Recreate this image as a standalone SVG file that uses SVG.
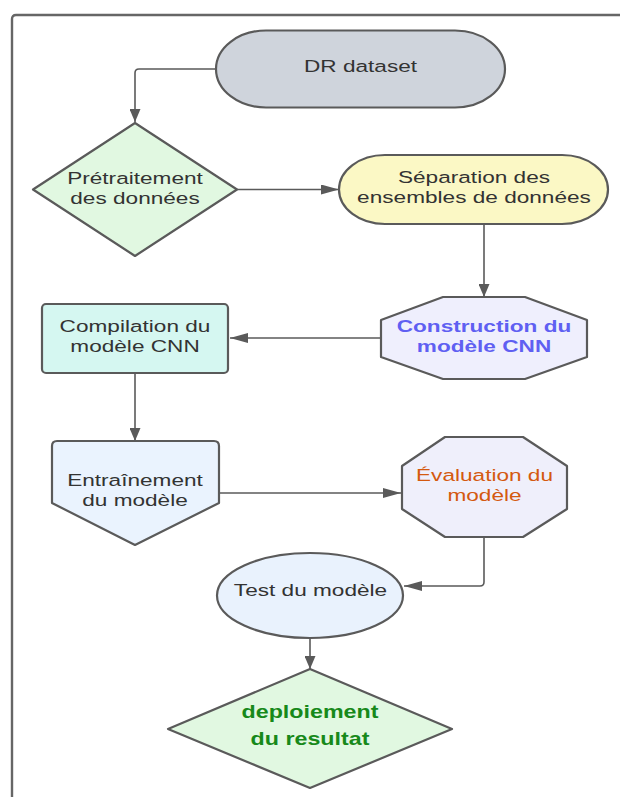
<svg xmlns="http://www.w3.org/2000/svg" width="620" height="797" viewBox="0 0 620 797">
  <style>
    .shape { stroke: #5a5a5a; stroke-width: 2.2; stroke-linejoin: round; }
    .edge { fill: none; stroke: #5a5a5a; stroke-width: 1.6; }
    .frame { fill: none; stroke: #666666; stroke-width: 2.4; }
    text { font-family: "Liberation Sans", Arial, sans-serif; font-size: 17px; fill: #333333; text-anchor: middle; }
    .blue { fill: #5f5ff2; font-weight: bold; }
    .orange { fill: #d4590f; }
    .green { fill: #17891a; font-weight: bold; font-size: 17.5px; }
  </style>
  <defs>
    <marker id="arrH" markerUnits="userSpaceOnUse" viewBox="0 0 18 10" markerWidth="18" markerHeight="10" refX="18" refY="5" orient="auto">
      <path d="M0,0 L18,5 L0,10 Z" fill="#5a5a5a"/>
    </marker>
    <marker id="arrV" markerUnits="userSpaceOnUse" viewBox="0 0 13 11" markerWidth="13" markerHeight="11" refX="13" refY="5.5" orient="auto">
      <path d="M0,0 L13,5.5 L0,11 Z" fill="#5a5a5a"/>
    </marker>
  </defs>

  <rect width="620" height="797" fill="#ffffff"/>

  <!-- page frame -->
  <path class="frame" d="M12,800 V19 Q12,15 16,15 H625"/>

  <!-- connectors -->
  <g id="connectors">
    <path class="edge" d="M216,69 H139 Q135,69 135,73 V122" marker-end="url(#arrV)"/>
    <path class="edge" d="M237,189.5 H339" marker-end="url(#arrH)"/>
    <path class="edge" d="M484,224 V297" marker-end="url(#arrV)"/>
    <path class="edge" d="M381,338 H230" marker-end="url(#arrH)"/>
    <path class="edge" d="M135,373 V441" marker-end="url(#arrV)"/>
    <path class="edge" d="M219,493 H401" marker-end="url(#arrH)"/>
    <path class="edge" d="M484,537 V582 Q484,586 480,586 H404" marker-end="url(#arrH)"/>
    <path class="edge" d="M310,638 V669" marker-end="url(#arrV)"/>
  </g>

  <!-- DR dataset -->
  <g id="dr-dataset">
    <path class="shape" fill="#cfd4dc" d="M266,30.5 H455 A50,38.5 0 0 1 455,107.5 H266 A50,38.5 0 0 1 266,30.5 Z"/>
    <g transform="translate(360.5,0) scale(1.33,1)"><text x="0" y="72">DR dataset</text></g>
  </g>

  <!-- Prétraitement -->
  <g id="pretraitement">
    <polygon class="shape" fill="#e1f8e1" points="135,123 237,189.5 135,256 33,189.5"/>
    <g transform="translate(135,0) scale(1.33,1)">
      <text x="0" y="184">Prétraitement</text>
      <text x="0" y="204">des données</text>
    </g>
  </g>

  <!-- Séparation -->
  <g id="separation">
    <path class="shape" fill="#fbf8c5" d="M385,155 H562 A46,34.5 0 0 1 562,224 H385 A46,34.5 0 0 1 385,155 Z"/>
    <g transform="translate(474,0) scale(1.33,1)">
      <text x="0" y="183">Séparation des</text>
      <text x="0" y="203">ensembles de données</text>
    </g>
  </g>

  <!-- Construction -->
  <g id="construction">
    <polygon class="shape" fill="#efeffd" points="443,297 525,297 587,320 587,357 525,379 443,379 381,357 381,320"/>
    <g transform="translate(484,0) scale(1.33,1)">
      <text class="blue" x="0" y="332">Construction du</text>
      <text class="blue" x="0" y="352">modèle CNN</text>
    </g>
  </g>

  <!-- Compilation -->
  <g id="compilation">
    <rect class="shape" fill="#d5f7f1" x="42" y="304" width="186" height="69" rx="4"/>
    <g transform="translate(135,0) scale(1.33,1)">
      <text x="0" y="332">Compilation du</text>
      <text x="0" y="352">modèle CNN</text>
    </g>
  </g>

  <!-- Entraînement -->
  <g id="entrainement">
    <path class="shape" fill="#eaf3fe" d="M57,441 H214 Q219,441 219,446 V503 L135,545 L52,503 V446 Q52,441 57,441 Z"/>
    <g transform="translate(135,0) scale(1.33,1)">
      <text x="0" y="486">Entraînement</text>
      <text x="0" y="506">du modèle</text>
    </g>
  </g>

  <!-- Évaluation -->
  <g id="evaluation">
    <polygon class="shape" fill="#efeffb" points="445,437 523,437 567,466 567,509 523,537 445,537 402,509 402,466"/>
    <g transform="translate(484.5,0) scale(1.33,1)">
      <text class="orange" x="0" y="481">Évaluation du</text>
      <text class="orange" x="0" y="501">modèle</text>
    </g>
  </g>

  <!-- Test -->
  <g id="test">
    <ellipse class="shape" fill="#e9f2fd" cx="310" cy="595.5" rx="93" ry="42.5"/>
    <g transform="translate(310.5,0) scale(1.33,1)"><text x="0" y="596">Test du modèle</text></g>
  </g>

  <!-- deploiement -->
  <g id="deploiement">
    <polygon class="shape" fill="#e1f8e1" points="310,669 452,729 310,788 168,729"/>
    <g transform="translate(310,0) scale(1.33,1)">
      <text class="green" x="0" y="718">deploiement</text>
      <text class="green" x="0" y="745">du resultat</text>
    </g>
  </g>
</svg>
